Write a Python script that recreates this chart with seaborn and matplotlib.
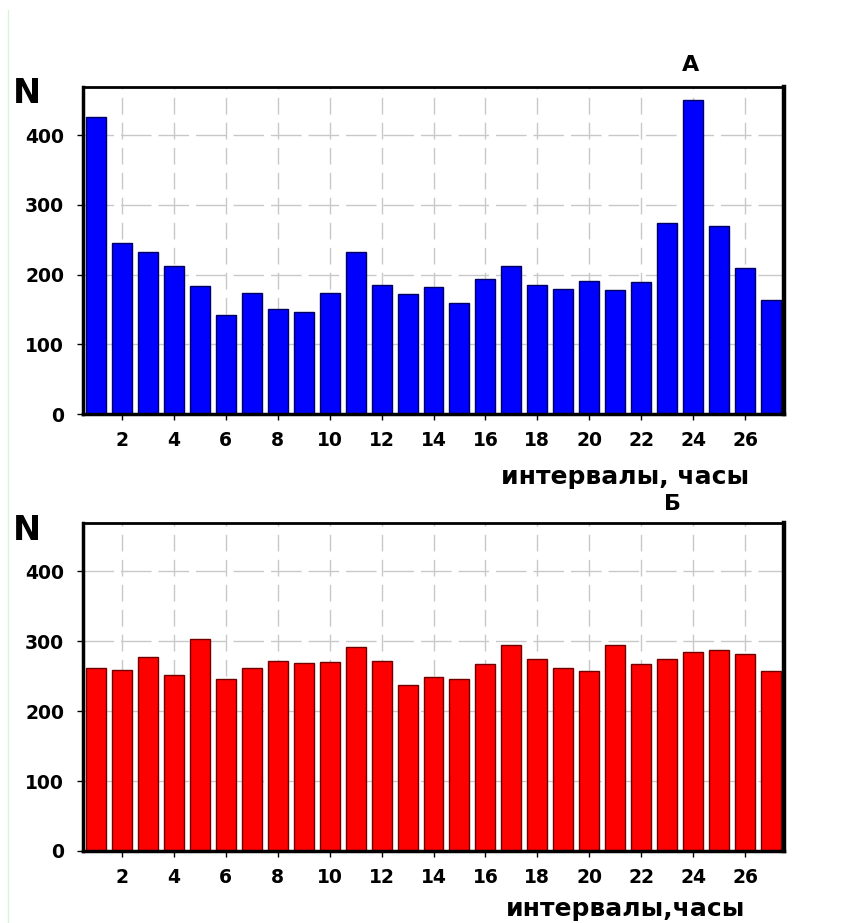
import matplotlib
matplotlib.use("Agg")
import matplotlib.pyplot as plt
import seaborn as sns
import pandas as pd
from matplotlib.lines import Line2D

# Hourly interval counts
intervals = list(range(1, 28))
counts_a = [426, 245, 232, 212, 184, 142, 174, 150, 147, 174, 232, 185, 172,
            182, 159, 193, 212, 185, 179, 191, 178, 189, 274, 450, 270, 209, 163]
counts_b = [261, 259, 278, 252, 303, 246, 261, 272, 269, 270, 291, 272, 238,
            249, 246, 267, 294, 274, 261, 258, 294, 268, 274, 285, 288, 282, 258]
x_ticks = list(range(2, 27, 2))
y_ticks = [0, 100, 200, 300, 400]

sns.set_theme(style="white")
plt.rcParams["font.family"] = ["DejaVu Sans"]
plt.rcParams["font.weight"] = "bold"
plt.rcParams["text.color"] = "black"
plt.rcParams["xtick.color"] = "black"
plt.rcParams["ytick.color"] = "black"
plt.rcParams["axes.labelcolor"] = "black"

fig = plt.figure(figsize=(8.42, 9.23), dpi=100)
W, H = 842, 923


def px_axes(left, top, right, bottom):
    return fig.add_axes([left / W, 1 - bottom / H, (right - left) / W, (bottom - top) / H])


ax_a = px_axes(83, 87, 784, 414)
ax_b = px_axes(83, 523, 784, 851)

panels = [
    (ax_a, counts_a, "#0000FF", "#000060"),
    (ax_b, counts_b, "#FF0000", "#700000"),
]

for ax, vals, face, edge in panels:
    df = pd.DataFrame({"interval": intervals, "N": vals})
    sns.barplot(data=df, x="interval", y="N", native_scale=True, width=0.77,
                color=face, saturation=1, edgecolor=edge, linewidth=1.0, ax=ax)
    ax.set_xlim(0.5, 27.5)
    ax.set_ylim(0, 469)
    ax.set_xticks(x_ticks)
    ax.set_yticks(y_ticks)
    ax.set_xticklabels([str(t) for t in x_ticks], fontsize=13.5, fontweight="bold",
                       color="black")
    ax.set_yticklabels([str(t) for t in y_ticks], fontsize=13.5, fontweight="bold",
                       color="black")
    ax.set_xlabel("")
    ax.set_ylabel("")
    ax.set_axisbelow(True)
    ax.xaxis.grid(True, color="#c8c8c8", linewidth=1.0, linestyle=(0, (12, 6)))
    ax.yaxis.grid(True, color="#c8c8c8", linewidth=1.0, linestyle=(0, (22, 5)))
    ax.tick_params(axis="both", which="major", direction="out", length=4.5,
                   width=1.0, color="black", left=True, bottom=True)
    ax.tick_params(axis="y", pad=9)
    ax.tick_params(axis="x", pad=8)
    for side, lw in (("left", 2.5), ("bottom", 2.5), ("right", 3.2), ("top", 2.0)):
        ax.spines[side].set_visible(True)
        ax.spines[side].set_color("black")
        ax.spines[side].set_linewidth(lw)

# Axis captions and panel letters
cap = dict(fontweight="bold", color="black")
fig.text(13 / W, 1 - 103 / H, "N", fontsize=24, ha="left", va="baseline", **cap)
fig.text(13 / W, 1 - 540 / H, "N", fontsize=24, ha="left", va="baseline", **cap)
fig.text(691 / W, 1 - 71 / H, "А", fontsize=16, ha="center", va="baseline", **cap)
fig.text(672 / W, 1 - 510 / H, "Б", fontsize=16, ha="center", va="baseline", **cap)
fig.text(625 / W, 1 - 484 / H, "интервалы, часы", fontsize=18, ha="center",
         va="baseline", **cap)
fig.text(626 / W, 1 - 921 / H, "интервалы,часы", fontsize=18, ha="center",
         va="bottom", **cap)

# Thin margin rule along the left edge
fig.add_artist(Line2D([7.5 / W, 7.5 / W], [0, 1 - 10 / H], transform=fig.transFigure,
                      color="#d6f5d6", linewidth=1.0))

fig.savefig("out.png", dpi=100)
